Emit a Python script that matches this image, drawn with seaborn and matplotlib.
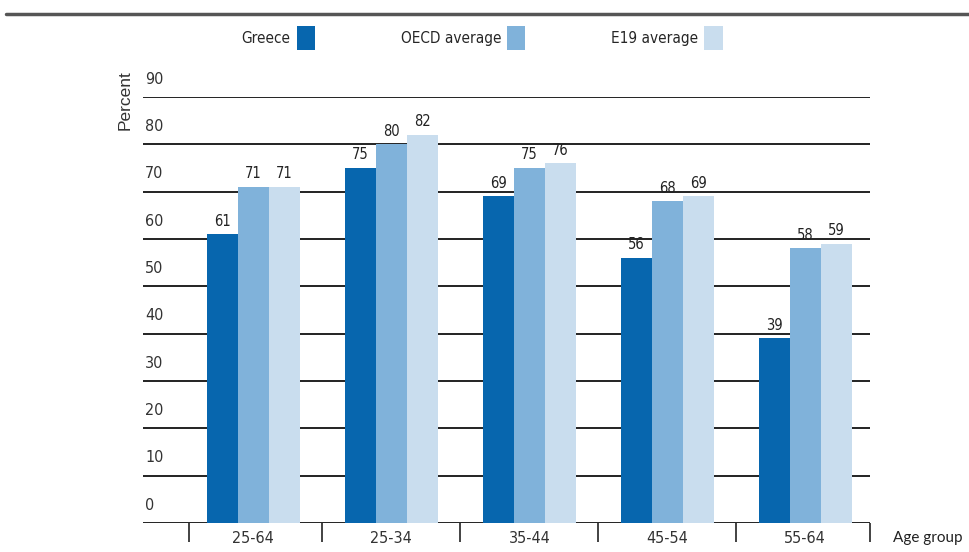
import pandas as pd
import seaborn as sns
import matplotlib.pyplot as plt
from matplotlib.lines import Line2D

age_groups = ["25-64", "25-34", "35-44", "45-54", "55-64"]
series = ["Greece", "OECD average", "E19 average"]
greece = [61, 75, 69, 56, 39]
oecd = [71, 80, 75, 68, 58]
e19 = [71, 82, 76, 69, 59]
y_ticks = list(range(0, 100, 10))
colors = ["#0766ae", "#80b2da", "#c9ddee"]

df = pd.DataFrame({
    "age": age_groups * 3,
    "series": [s for s in series for _ in age_groups],
    "value": greece + oecd + e19,
})

sns.set_style("white")
plt.rcParams["font.family"] = ["Liberation Sans Narrow", "DejaVu Sans"]
plt.rcParams["font.stretch"] = "condensed"

fig = plt.figure(figsize=(9.7, 5.52), dpi=100)
ax = fig.add_axes([0.1474, 0.0525, 0.897 - 0.1474, 0.8243 - 0.0525])

sns.barplot(data=df, x="age", y="value", hue="series", palette=colors,
            width=0.675, saturation=1, linewidth=0, ax=ax, zorder=3)

for c in ax.containers:
    ax.bar_label(c, fmt="%.0f", padding=4, fontsize=10.5, color="#222")

# gridlines + y labels sitting above them
ax.set_ylim(0, 90)
ax.set_xlim(-0.8, 4.47)
for v in y_ticks:
    ax.axhline(v, color="#222", lw=1.4, zorder=1)
    ax.text(-0.785, v + 2.2, str(v), fontsize=11.5, color="#333",
            ha="left", va="bottom", zorder=2)
ax.set_yticks([])
ax.set_ylabel("")
ax.set_xlabel("")

for s in ax.spines.values():
    s.set_visible(False)

# category separators under axis
ax.set_xticks(range(len(age_groups)))
ax.set_xticklabels(age_groups, fontsize=11.5, color="#333")
ax.set_xticks([-0.47, 0.5, 1.5, 2.5, 3.5, 4.47], minor=True)
ax.tick_params(axis="x", which="major", bottom=False, pad=2)
ax.tick_params(axis="x", which="minor", bottom=True, length=14, width=1.2,
               color="#222", direction="out")

ax.text(1.0316, -0.036, "Age group", transform=ax.transAxes, fontsize=11,
        family=["Lato", "DejaVu Sans"], stretch="normal",
        color="#222", ha="left", va="center")
fig.text(0.129, 0.819, "Percent", rotation=90, fontsize=12.5,
         family=["Liberation Sans", "DejaVu Sans"], stretch="normal",
         color="#333", ha="center", va="center")

handles, labels = ax.get_legend_handles_labels()
ax.get_legend().remove()
fig.legend(handles, labels, loc="center", bbox_to_anchor=(0.497, 0.931),
           ncol=3, frameon=False, markerfirst=False, fontsize=11,
           handlelength=1.2, handleheight=2.1, handletextpad=0.4,
           columnspacing=5.6)

fig.add_artist(Line2D([0.006, 1.0], [1 - 14 / 552] * 2, color="#555", lw=2.5))

fig.savefig("out.png", dpi=100)
